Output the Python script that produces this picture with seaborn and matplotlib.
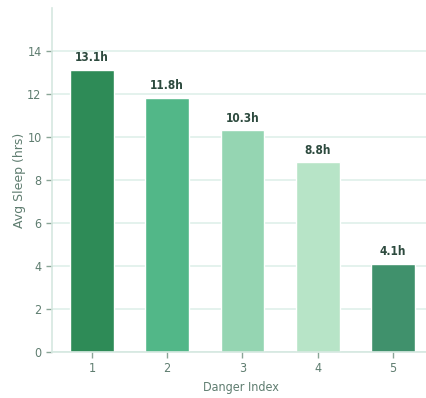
import matplotlib
matplotlib.use("Agg")
import matplotlib.pyplot as plt
import seaborn as sns
import pandas as pd

danger_index = ["1", "2", "3", "4", "5"]
avg_sleep = [13.1, 11.8, 10.3, 8.8, 4.1]
bar_colors = ["#2e8b57", "#52b788", "#95d5b2", "#b7e4c7", "#40916c"]

sns.set_theme(style="white")
plt.rcParams['font.family'] = ['DejaVu Sans']
plt.rcParams['font.stretch'] = 'condensed'

df = pd.DataFrame({"Danger Index": danger_index, "Avg Sleep (hrs)": avg_sleep})

fig = plt.figure(figsize=(4.26, 3.98), dpi=100)
ax = fig.add_axes([0.122, 0.116, 0.889, 0.864])

sns.barplot(data=df, x="Danger Index", y="Avg Sleep (hrs)", hue="Danger Index",
            palette=bar_colors, legend=False, width=0.58, ax=ax, saturation=1,
            edgecolor="white", linewidth=1)

ax.set_ylim(0, max(avg_sleep) * 1.22)
ax.set_yticks(range(0, 15, 2))
ax.set_xlim(-0.53, 4.5)
ax.yaxis.grid(True, color="#dff0ea", linewidth=1.2)
ax.set_axisbelow(True)

spine_c = "#d5e8e0"
for s in ["top", "right"]:
    ax.spines[s].set_visible(False)
for s in ["left", "bottom"]:
    ax.spines[s].set_color(spine_c)
    ax.spines[s].set_linewidth(1.2)

lab_c = "#5f7d70"
ax.tick_params(axis="both", colors=lab_c, labelsize=9, length=4, width=1,
               bottom=True, left=True)
ax.tick_params(axis="both", color="#8aa597")
ax.set_xlabel("Danger Index", color=lab_c, fontsize=9)
ax.set_ylabel("Avg Sleep (hrs)", color=lab_c, fontsize=9, fontstretch="normal",
              labelpad=1)

for p, v in zip(ax.patches, avg_sleep):
    ax.annotate(f"{v}h", (p.get_x() + p.get_width() / 2, p.get_height()),
                xytext=(0, 4), textcoords="offset points", ha="center", va="bottom",
                fontsize=8.5, fontweight="bold", color="#2d4a3e")

fig.savefig("out.png", dpi=100)
